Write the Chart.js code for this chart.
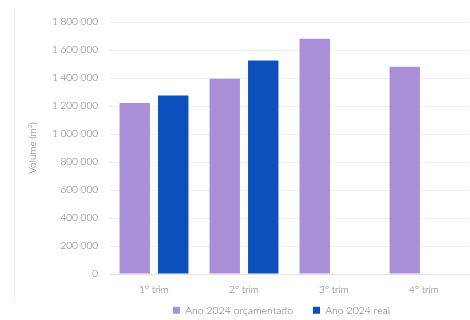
<!DOCTYPE html>
<html>
<head>
<meta charset="utf-8">
<script src="https://cdn.jsdelivr.net/npm/chart.js@4/dist/chart.umd.min.js"></script>
<style>
  html, body { margin: 0; padding: 0; background: #fff; }
  #wrap { position: relative; width: 470px; height: 320px; }
  #edge { position: absolute; left: 14px; top: 8px; height: 292px; border-left: 1px solid #ececec; }
</style>
</head>
<body>
<div id="wrap">
  <div id="edge"></div>
  <canvas id="myChart" width="470" height="320"></canvas>
</div>
<script>
// dados trimestrais
const trimestres = ['1º trim', '2º trim', '3º trim', '4º trim'];
const orcamentado = [1222000, 1395000, 1680000, 1480000];
const real = [1275000, 1525000, null, null];
const ticksY = [0, 200000, 400000, 600000, 800000, 1000000, 1200000, 1400000, 1600000, 1800000];

const corTexto = '#707070';
const fonte = { family: 'Lato', size: 10, weight: 300 };

// separador de milhar com espaço
function fmt(v) {
    return String(v).replace(/\B(?=(\d{3})+(?!\d))/g, ' ');
}

/* legenda: altura fixa e posição ajustada ------------------------------------------ */
const ajustaLegenda = {
    id: 'ajustaLegenda',
    beforeLayout(chart) {
        const lg = chart.legend;
        if (lg && !lg._fixa) {
            const fitOrig = lg.fit.bind(lg);
            lg.fit = function () {
                fitOrig();
                this.height = 22;
            };
            lg._fixa = true;
        }
    },
    afterLayout(chart) {
        const lg = chart.legend;
        if (lg) {
            lg.left += 40;
            lg.right += 40;
            lg.top -= 13;
        }
    }
};

const data = {
    labels: trimestres,
    datasets: [{
        label: 'Ano 2024 orçamentado',
        data: orcamentado,
        backgroundColor: '#a98ed8',
        categoryPercentage: 0.855,
        barPercentage: 0.79
    }, {
        label: 'Ano 2024 real',
        data: real,
        backgroundColor: '#0c50bd',
        categoryPercentage: 0.855,
        barPercentage: 0.79
    }]
};

const config = {
    type: 'bar',
    data: data,
    plugins: [ajustaLegenda],
    options: {
        responsive: false,
        animation: false,
        layout: { padding: { left: 14, top: 22, right: 1, bottom: 0 } },
        plugins: {
            legend: {
                position: 'bottom',
                labels: {
                    color: corTexto,
                    font: { family: 'Lato', size: 10.5, weight: 300 },
                    boxWidth: 7,
                    boxHeight: 7,
                    padding: 20
                }
            },
            tooltip: { enabled: false }
        },
        scales: {
            x: {
                afterFit(scale) { scale.height = 24; },
                grid: { display: false, drawTicks: false },
                border: { color: '#e6e6e6' },
                ticks: { color: corTexto, font: fonte, padding: 10 }
            },
            y: {
                min: 0,
                max: 1800000,
                afterBuildTicks(scale) {
                    scale.ticks = ticksY.map(v => ({ value: v }));
                },
                afterFit(scale) { scale.width = 95; },
                grid: { color: '#f1f1f1', drawTicks: false },
                border: { display: false },
                ticks: {
                    color: corTexto,
                    font: fonte,
                    padding: 11,
                    callback: v => fmt(v)
                },
                title: {
                    display: true,
                    text: 'Volume (m²)',
                    color: corTexto,
                    font: fonte,
                    padding: { top: 13, bottom: 0 }
                }
            }
        }
    }
};

new Chart(document.getElementById('myChart'), config);
</script>
</body>
</html>
